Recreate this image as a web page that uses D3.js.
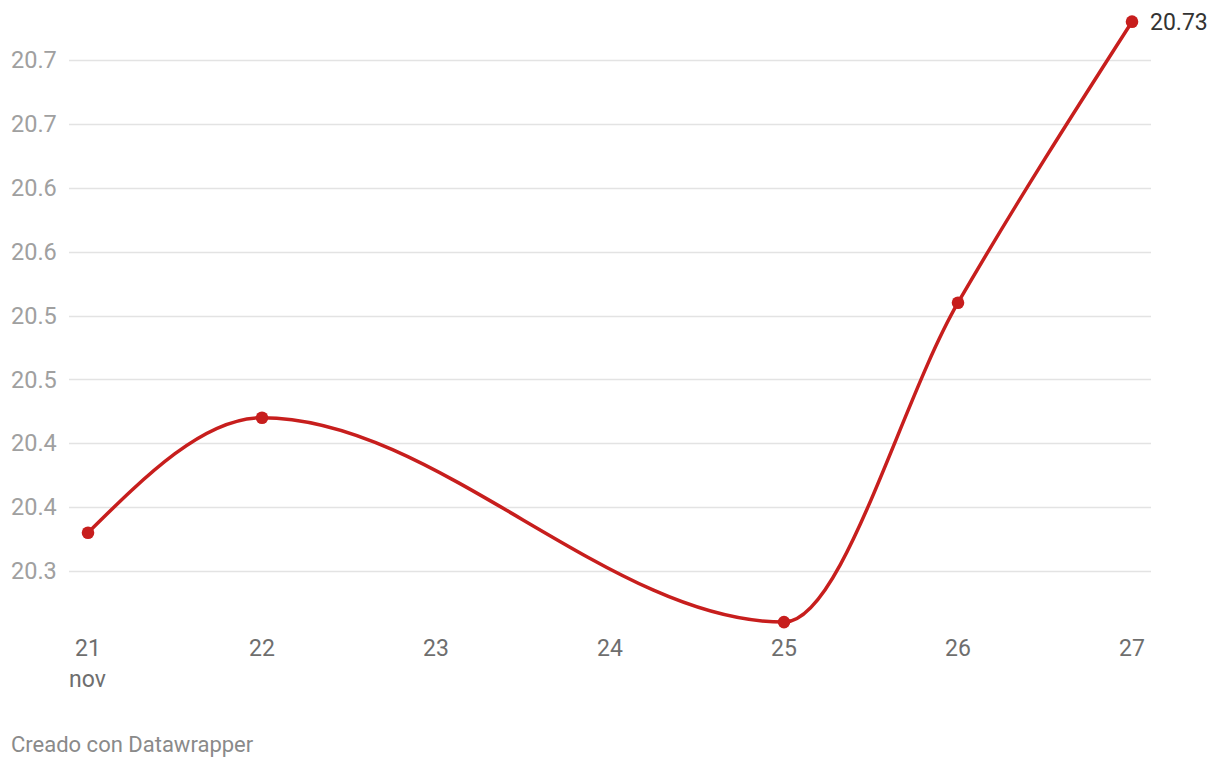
<!DOCTYPE html>
<html>
<head>
<meta charset="utf-8">
<script src="https://cdn.jsdelivr.net/npm/d3@7"></script>
<style>
  html, body { margin: 0; padding: 0; background: #fff; }
  svg { display: block; font-family: Roboto, "Noto Sans", sans-serif; }
</style>
</head>
<body>
<svg id="chart" width="1220" height="768"></svg>
<script>
// ---- data ----
const days = [21, 22, 25, 26, 27];
const values = [20.33, 20.42, 20.26, 20.51, 20.73];
const xTickValues = [21, 22, 23, 24, 25, 26, 27];
const xTickLabels = ["21", "22", "23", "24", "25", "26", "27"];
const yTickValues = [20.3, 20.35, 20.4, 20.45, 20.5, 20.55, 20.6, 20.65, 20.7];
const yTickLabels = ["20.3", "20.4", "20.4", "20.5", "20.5", "20.6", "20.6", "20.7", "20.7"];
const monthLabel = "nov";
const lastLabel = "20.73";
const footer = "Creado con Datawrapper";

// ---- layout ----
const svg = d3.select("#chart");
const x = d3.scaleLinear().domain([21, 27]).range([88, 1132]);
const y = d3.scaleLinear().domain([20.3, 20.7]).range([571, 60]);
const gridLeft = 69, gridRight = 1151;
const red = "#c71e1d";

// gridlines
svg.append("g").selectAll("line").data(yTickValues).join("line")
  .attr("x1", gridLeft).attr("x2", gridRight)
  .attr("y1", d => Math.round(y(d)) + 0.5).attr("y2", d => Math.round(y(d)) + 0.5)
  .attr("stroke", "#e3e3e3").attr("stroke-width", 1.5);

// y labels
svg.append("g").selectAll("text").data(yTickValues).join("text")
  .attr("x", 11).attr("y", d => y(d))
  .attr("dy", "0.35em")
  .attr("font-size", 23.5).attr("fill", "#a0a0a0")
  .text((d, i) => yTickLabels[i]);

// x labels
svg.append("g").selectAll("text").data(xTickValues).join("text")
  .attr("x", d => x(d)).attr("y", 648)
  .attr("dy", "0.35em")
  .attr("text-anchor", "middle")
  .attr("font-size", 23).attr("fill", "#6e6e6e")
  .text((d, i) => xTickLabels[i]);

svg.append("text")
  .attr("x", 69).attr("y", 679).attr("dy", "0.35em")
  .attr("font-size", 23).attr("fill", "#6e6e6e")
  .text(monthLabel);

// line
const pts = days.map((d, i) => [d, values[i]]);
const line = d3.line().x(d => x(d[0])).y(d => y(d[1])).curve(d3.curveMonotoneX);
svg.append("path").datum(pts)
  .attr("d", line)
  .attr("fill", "none").attr("stroke", red).attr("stroke-width", 3.5)
  .attr("stroke-linejoin", "round").attr("stroke-linecap", "round");

// dots
svg.append("g").selectAll("circle").data(pts).join("circle")
  .attr("cx", d => x(d[0])).attr("cy", d => y(d[1])).attr("r", 6.3)
  .attr("fill", red);

// last value label
svg.append("text")
  .attr("x", x(days[days.length - 1]) + 18).attr("y", y(values[values.length - 1]))
  .attr("dy", "0.35em")
  .attr("font-size", 23).attr("fill", "#333")
  .text(lastLabel);

// footer
svg.append("text")
  .attr("x", 11).attr("y", 744).attr("dy", "0.35em")
  .attr("font-size", 22).attr("fill", "#8a8a8a")
  .text(footer);
</script>
</body>
</html>
